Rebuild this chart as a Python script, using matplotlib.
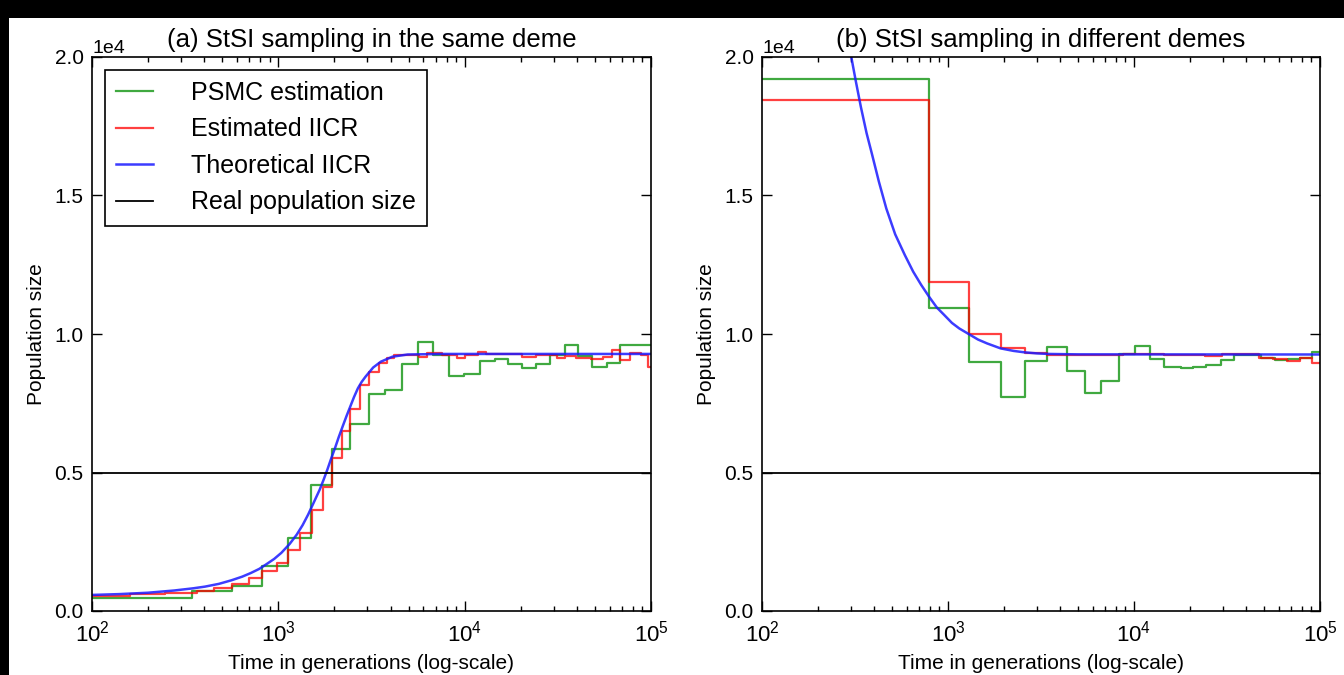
import matplotlib
matplotlib.use("Agg")
import matplotlib.pyplot as plt
from matplotlib.patches import Rectangle
import matplotlib.ticker as mticker

# ---------------- data ----------------
# Panel (a): StSI sampling in the same deme
a_psmc_t = [100, 342, 561, 820, 1130, 1502, 1938, 2431, 3052, 3727, 4607, 5645, 6728,
            8245, 9955, 12030, 14520, 17060, 20420, 24100, 28710, 34360, 40550, 48300,
            57820, 68230]
a_psmc_n = [480, 740, 900, 1620, 2640, 4540, 5860, 6760, 7830, 7980, 8920, 9720, 9240,
            8500, 8550, 9030, 9090, 8910, 8760, 8910, 9240, 9600, 9210, 8820, 8970, 9600]

a_est_t = [100, 160, 245, 367, 454, 561, 695, 820, 982, 1130, 1315, 1516, 1731, 1938,
           2191, 2431, 2737, 3052, 3470, 3814, 4191, 5700, 6270, 7570, 9140, 10050,
           11860, 13030, 20420, 24100, 31260, 34360, 39630, 47860, 55090, 62070, 68230,
           76780, 88480, 96350]
a_est_n = [540, 600, 660, 740, 840, 960, 1200, 1460, 1740, 2220, 2820, 3630, 4470, 5520,
           6510, 7300, 8160, 8640, 8940, 9150, 9240, 9180, 9300, 9240, 9120, 9240, 9360,
           9270, 9180, 9240, 9150, 9220, 9150, 9110, 9180, 9420, 9060, 9300, 9250, 8820]

a_theo_t = [100, 140, 200, 276, 350, 404, 480, 561, 640, 711, 790, 859, 950, 1038, 1150,
            1256, 1350, 1445, 1550, 1667, 1750, 1832, 1920, 2014, 2110, 2213, 2320, 2432,
            2550, 2673, 2800, 2938, 3228, 3548, 4093, 4943, 7568, 100000]
a_theo_n = [580, 610, 660, 740, 820, 880, 980, 1110, 1240, 1370, 1520, 1680, 1880, 2100,
            2420, 2760, 3100, 3480, 3920, 4380, 4740, 5100, 5500, 5880, 6280, 6660, 7030,
            7380, 7730, 8040, 8270, 8460, 8790, 9000, 9180, 9260, 9280, 9280]

# Panel (b): StSI sampling in different demes
b_psmc_t = [100, 795, 1291, 1919, 2593, 3398, 4337, 5454, 6686, 8277, 10150, 12140, 14510,
            17790, 20720, 24380, 29300, 34500, 48000, 57400, 66900, 77900, 90800]
b_psmc_n = [19220, 10930, 9000, 7710, 9030, 9520, 8680, 7860, 8310, 9270, 9580, 9100, 8820,
            8760, 8800, 8880, 9060, 9240, 9150, 9060, 9100, 9150, 9340]

b_est_t = [100, 795, 1291, 1919, 2593, 3398, 8710, 14510, 24150, 29600, 46770, 55950,
           66860, 77990, 90800]
b_est_n = [18430, 11860, 10000, 9480, 9300, 9240, 9260, 9240, 9220, 9260, 9150, 9100,
           9030, 9120, 8940]

b_theo_t = [280, 302, 320, 340, 365, 390, 425, 466, 520, 586, 650, 718, 794, 870, 950,
            1050, 1150, 1291, 1450, 1622, 1919, 2250, 2564, 3000, 3483, 5000, 100000]
b_theo_n = [21000, 20000, 19100, 18200, 17250, 16500, 15500, 14530, 13600, 12850, 12250,
            11770, 11330, 10960, 10700, 10400, 10200, 10000, 9800, 9660, 9480, 9390, 9340,
            9300, 9280, 9265, 9260]

real_t = [100, 100000]
real_n = [5000, 5000]

titles = ["(a) StSI sampling in the same deme", "(b) StSI sampling in different demes"]
labels = ["PSMC estimation", "Estimated IICR", "Theoretical IICR", "Real population size"]

# ---------------- style ----------------
plt.rcParams['font.family'] = ['Liberation Sans', 'DejaVu Sans']
plt.rcParams['mathtext.default'] = 'regular'

fig = plt.figure(figsize=(13.44, 6.75), dpi=100)
fig.patch.set_facecolor('white')

W, H = 1344, 675
boxes = [(92, 57, 651, 611), (762, 57, 1320, 611)]
panels = [
    (a_psmc_t, a_psmc_n, a_est_t, a_est_n, a_theo_t, a_theo_n),
    (b_psmc_t, b_psmc_n, b_est_t, b_est_n, b_theo_t, b_theo_n),
]

def step_xy(t, n):
    return list(t) + [100000], list(n) + [n[-1]]

for i, ((x0, y0, x1, y1), data) in enumerate(zip(boxes, panels)):
    ax = fig.add_axes([x0 / W, 1 - y1 / H, (x1 - x0) / W, (y1 - y0) / H])
    pt, pn, et, en, tt, tn = data
    sx, sy = step_xy(pt, pn)
    ax.step(sx, sy, where='post', color=(0.0, 0.55, 0.0), alpha=0.75, lw=1.6, label=labels[0])
    sx, sy = step_xy(et, en)
    ax.step(sx, sy, where='post', color=(1.0, 0.0, 0.0), alpha=0.75, lw=1.6, label=labels[1])
    ax.plot(tt, tn, color=(0.1, 0.1, 1.0), alpha=0.85, lw=1.8, label=labels[2])
    ax.plot(real_t, real_n, color='black', lw=1.3, label=labels[3])

    ax.set_xscale('log')
    ax.set_xlim(100, 100000)
    ax.set_ylim(0, 20000)
    ax.yaxis.set_major_locator(mticker.MultipleLocator(5000))
    fmt = mticker.ScalarFormatter(useMathText=False)
    fmt.set_powerlimits((0, 0))
    ax.yaxis.set_major_formatter(fmt)
    ax.yaxis.get_offset_text().set_fontsize(14)

    ax.tick_params(which='both', direction='in', top=True, right=True, labelsize=15,
                   colors='black')
    ax.tick_params(which='major', length=7, width=1, pad=6)
    ax.tick_params(which='minor', length=3.5, width=1)
    ax.tick_params(axis='x', which='major', labelsize=16, pad=7)
    for s in ax.spines.values():
        s.set_linewidth(1.2)

    ax.set_title(titles[i], fontsize=18.5, pad=7)
    ax.set_xlabel("Time in generations (log-scale)", fontsize=15, labelpad=5)
    ax.set_ylabel("Population size", fontsize=15, labelpad=6)

    if i == 0:
        leg = ax.legend(loc='upper left', fontsize=18, frameon=True, fancybox=False,
                        edgecolor='black', framealpha=1, handlelength=1.5,
                        borderpad=0.45, labelspacing=0.5, handletextpad=1.5,
                        bbox_to_anchor=(0.0, 1.0))
        leg.get_frame().set_linewidth(1.2)

# black borders of the reference image
fig.patches.append(Rectangle((0, 0), 9 / W, 1, transform=fig.transFigure,
                             facecolor='black', edgecolor='none', zorder=10))
fig.patches.append(Rectangle((0, 1 - 18 / H), 1, 18 / H, transform=fig.transFigure,
                             facecolor='black', edgecolor='none', zorder=10))

fig.savefig("out.png", dpi=100, facecolor=fig.get_facecolor())
